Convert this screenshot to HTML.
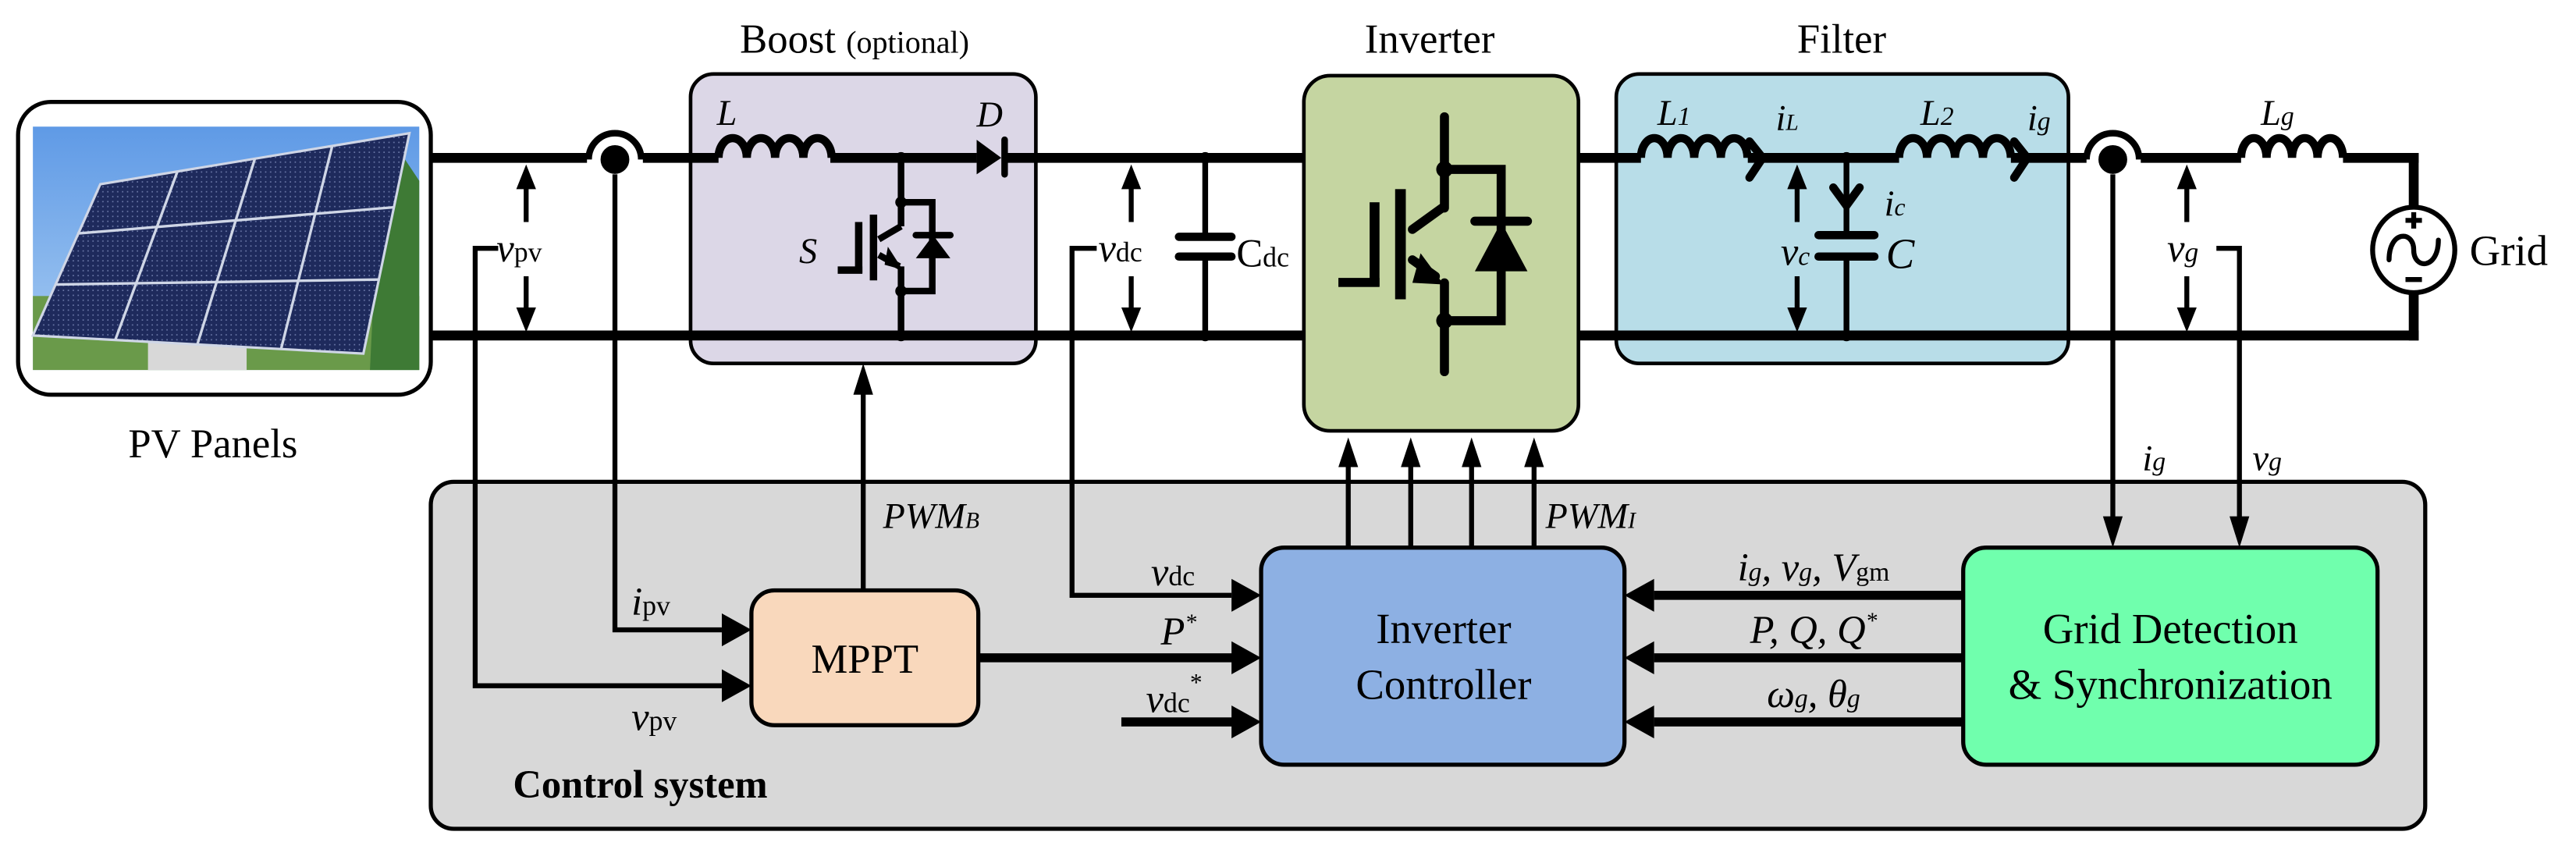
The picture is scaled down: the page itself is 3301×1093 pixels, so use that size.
<!DOCTYPE html>
<html><head><meta charset="utf-8"><style>
html,body{margin:0;padding:0;background:#fff;}
svg{display:block;font-family:"Liberation Serif","DejaVu Serif",serif;}
svg text{font-family:"Liberation Serif","DejaVu Serif",serif;fill:#000;}
.it{font-style:italic;}
</style></head><body>
<svg width="3301" height="1093" viewBox="0 0 1566.7 518.7" preserveAspectRatio="none" xmlns="http://www.w3.org/2000/svg" font-family="Liberation Serif, serif">
<defs>
<linearGradient id="sky" x1="0" y1="0" x2="0" y2="1"><stop offset="0" stop-color="#5f9ae6"/><stop offset="1" stop-color="#a9cdf2"/></linearGradient>
<pattern id="cells" width="3" height="3" patternUnits="userSpaceOnUse"><rect width="3" height="3" fill="#1e2a5c"/><rect x="2.2" y="2.2" width="0.8" height="0.8" fill="#6b78a8"/></pattern>
</defs>

<!-- Titles -->
<text x="450" y="32" font-size="25">Boost <tspan font-size="19">(optional)</tspan></text>
<text x="830" y="32" font-size="25">Inverter</text>
<text x="1093" y="32" font-size="25">Filter</text>

<!-- Control system box -->
<rect x="262" y="293" width="1213" height="211" rx="14" fill="#d8d8d8" stroke="#000" stroke-width="2.5"/>
<text x="312" y="485" font-size="24" font-weight="bold">Control system</text>

<!-- Boost box -->
<rect x="420" y="45" width="210" height="176" rx="14" fill="#dcd7e7" stroke="#000" stroke-width="2.2"/>
<!-- Inverter box -->
<rect x="793" y="46" width="167" height="216" rx="16" fill="#c5d5a1" stroke="#000" stroke-width="2.2"/>
<!-- Filter box -->
<rect x="983" y="45" width="275" height="176" rx="14" fill="#b8dde8" stroke="#000" stroke-width="2.2"/>

<!-- PV panel box -->
<rect x="11" y="62" width="251" height="178" rx="20" fill="#fff" stroke="#000" stroke-width="2.5"/>
<rect x="20" y="77" width="235" height="148" fill="url(#sky)"/>
<rect x="20" y="180" width="235" height="45" fill="#6a9a4a"/>
<path d="M230 120 L245 95 L255 110 L255 225 L225 225 Z" fill="#3e7a35"/>
<rect x="90" y="208" width="60" height="17" fill="#d8d8d8"/>
<polygon points="61,112 249,81 221,215 20,204" fill="url(#cells)" stroke="#cfd6e6" stroke-width="1.5"/>
<g stroke="#cfd6e6" stroke-width="1.6">
<line x1="108" y1="104" x2="70" y2="207"/>
<line x1="155" y1="96.5" x2="120" y2="209.5"/>
<line x1="202" y1="89" x2="171" y2="212"/>
<line x1="47" y1="142" x2="240" y2="126"/>
<line x1="34" y1="173" x2="231" y2="170"/>
</g>
<text x="78" y="278" font-size="25">PV Panels</text>

<!-- Rails -->
<g stroke="#000" stroke-width="6" fill="none">
<line x1="262" y1="96" x2="357" y2="96"/>
<line x1="391" y1="96" x2="437" y2="96"/>
<line x1="505" y1="96" x2="594" y2="96"/>
<line x1="610" y1="96" x2="793" y2="96"/>
<line x1="960" y1="96" x2="998" y2="96"/>
<line x1="1063" y1="96" x2="1155" y2="96"/>
<line x1="1223" y1="96" x2="1269" y2="96"/>
<line x1="1302" y1="96" x2="1363" y2="96"/>
<line x1="1425" y1="96" x2="1471" y2="96"/>
<line x1="262" y1="204" x2="793" y2="204"/>
<line x1="960" y1="204" x2="1471" y2="204"/>
<line x1="1468" y1="93" x2="1468" y2="126"/>
<line x1="1468" y1="178" x2="1468" y2="207"/>
</g>

<!-- Inductors -->
<g stroke="#000" stroke-width="5" fill="none">
<path d="M437 96 a8.6 12 0 0 1 17.2 0 a8.6 12 0 0 1 17.2 0 a8.6 12 0 0 1 17.2 0 a8.6 12 0 0 1 17.2 0"/>
<path d="M998 96 a8.1 12 0 0 1 16.2 0 a8.1 12 0 0 1 16.2 0 a8.1 12 0 0 1 16.2 0 a8.1 12 0 0 1 16.2 0"/>
<path d="M1155 96 a8.5 12 0 0 1 17 0 a8.5 12 0 0 1 17 0 a8.5 12 0 0 1 17 0 a8.5 12 0 0 1 17 0"/>
<path d="M1363 96 a7.75 12 0 0 1 15.5 0 a7.75 12 0 0 1 15.5 0 a7.75 12 0 0 1 15.5 0 a7.75 12 0 0 1 15.5 0"/>
</g>
<text x="436" y="76" font-size="22" class="it">L</text>
<text x="1008" y="76" font-size="22" class="it">L<tspan font-size="16">1</tspan></text>
<text x="1080" y="79" font-size="22" class="it">i<tspan font-size="14">L</tspan></text>
<text x="1168" y="76" font-size="22" class="it">L<tspan font-size="16">2</tspan></text>
<text x="1233" y="79" font-size="22" class="it">i<tspan font-size="16">g</tspan></text>
<text x="1375" y="76" font-size="22" class="it">L<tspan font-size="16">g</tspan></text>

<!-- Jump / current sensor circles -->
<g>
<path d="M358 97 A16 16 0 0 1 390 97" stroke="#000" stroke-width="4" fill="#fff"/>
<ellipse cx="374" cy="97" rx="10" ry="10" fill="#000" stroke="#fff" stroke-width="2.5"/>
<path d="M1269 97 A16 16 0 0 1 1301 97" stroke="#000" stroke-width="4" fill="#fff"/>
<ellipse cx="1285" cy="97" rx="10" ry="10" fill="#000" stroke="#fff" stroke-width="2.5"/>
</g>

<!-- Diode D -->
<polygon points="594,85 609,96 594,106" fill="#000"/>
<line x1="611" y1="85" x2="611" y2="106" stroke="#000" stroke-width="4" stroke-linecap="round"/>
<text x="594" y="77" font-size="22" class="it">D</text>

<!-- Boost switch -->
<g stroke="#000" stroke-width="4" fill="none">
<line x1="548" y1="96" x2="548" y2="137.6"/>
<line x1="548" y1="162" x2="548" y2="204"/>
<polyline points="548,123 567,123 567,177 548,177"/>
<line x1="534.5" y1="145.5" x2="548" y2="137.6"/>
<line x1="534.5" y1="155" x2="547" y2="162"/>
<line x1="557" y1="143" x2="578" y2="143" stroke-linecap="round"/>
</g>
<rect x="529" y="130.5" width="4.5" height="40" fill="#000"/>
<rect x="520" y="135" width="4.5" height="31" fill="#000"/>
<rect x="509.5" y="162" width="15" height="4.5" fill="#000"/>
<polygon points="557,157 578,157 567.5,143" fill="#000"/>
<polygon points="549,164 540,150 538,161" fill="#000"/>
<circle cx="548" cy="96" r="3.5"/><circle cx="548" cy="123" r="3.5"/><circle cx="548" cy="177" r="3.5"/><circle cx="548" cy="204" r="3.5"/>
<text x="486" y="160" font-size="22" class="it">S</text>

<!-- Cdc -->
<g stroke="#000" stroke-width="3.5">
<line x1="733" y1="96" x2="733" y2="144"/>
<line x1="733" y1="156" x2="733" y2="204"/>
</g>
<line x1="717" y1="144" x2="749" y2="144" stroke="#000" stroke-width="5" stroke-linecap="round"/>
<line x1="717" y1="156" x2="749" y2="156" stroke="#000" stroke-width="5" stroke-linecap="round"/>
<circle cx="733" cy="96" r="3.5"/><circle cx="733" cy="204" r="3.5"/>
<text x="752" y="162" font-size="24">C<tspan font-size="17">dc</tspan></text>

<!-- Inverter switch -->
<g stroke="#000" stroke-width="5.5" fill="none" stroke-linecap="round">
<line x1="878.5" y1="71" x2="878.5" y2="126.5"/>
<line x1="878.5" y1="172" x2="878.5" y2="226"/>
<polyline points="878.5,103 913,103 913,195 878.5,195" stroke-linecap="butt"/>
<line x1="859" y1="139.5" x2="877" y2="126.5"/>
<line x1="859" y1="158" x2="873" y2="168"/>
<line x1="897" y1="134.5" x2="929" y2="134.5"/>
</g>
<rect x="848.5" y="115" width="6.5" height="67" fill="#000"/>
<rect x="833" y="123" width="6" height="51" fill="#000"/>
<rect x="814" y="169" width="25" height="5.5" fill="#000"/>
<polygon points="897,165 929,165 913,135" fill="#000"/>
<polygon points="878,173 864,154 859,172" fill="#000"/>
<circle cx="878.5" cy="103" r="5"/><circle cx="878.5" cy="195" r="5"/>

<!-- Filter parts -->
<g stroke="#000" stroke-width="5" fill="none" stroke-linecap="round">
<polyline points="1064,86 1072,96 1064,108"/>
<polyline points="1225,86 1233,96 1225,108"/>
<polyline points="1115,114 1123,125 1131,114"/>
</g>
<g stroke="#000" stroke-width="3.5">
<line x1="1123" y1="96" x2="1123" y2="143"/>
<line x1="1123" y1="156" x2="1123" y2="204"/>
</g>
<line x1="1106" y1="143" x2="1140" y2="143" stroke="#000" stroke-width="5" stroke-linecap="round"/>
<line x1="1106" y1="156" x2="1140" y2="156" stroke="#000" stroke-width="5" stroke-linecap="round"/>
<circle cx="1123" cy="96" r="3.5"/><circle cx="1123" cy="204" r="3.5"/>
<text x="1146" y="131" font-size="22" class="it">i<tspan font-size="15">c</tspan></text>
<text x="1147" y="163" font-size="26" class="it">C</text>
<text x="1083" y="161" font-size="24" class="it">v<tspan font-size="16">c</tspan></text>

<!-- Voltage arrows -->
<g stroke="#000" stroke-width="3">
<line x1="320" y1="112" x2="320" y2="135"/><line x1="320" y1="168" x2="320" y2="190"/>
<line x1="688" y1="112" x2="688" y2="135"/><line x1="688" y1="168" x2="688" y2="190"/>
<line x1="1093" y1="112" x2="1093" y2="135"/><line x1="1093" y1="168" x2="1093" y2="190"/>
<line x1="1330" y1="112" x2="1330" y2="135"/><line x1="1330" y1="168" x2="1330" y2="190"/>
</g>
<g fill="#000">
<polygon points="320,100 314,115 326,115"/><polygon points="320,202 314,187 326,187"/>
<polygon points="688,100 682,115 694,115"/><polygon points="688,202 682,187 694,187"/>
<polygon points="1093,100 1087,115 1099,115"/><polygon points="1093,202 1087,187 1099,187"/>
<polygon points="1330,100 1324,115 1336,115"/><polygon points="1330,202 1324,187 1336,187"/>
</g>
<text x="302" y="159" font-size="24" class="it">v<tspan font-size="17" font-style="normal">pv</tspan></text>
<text x="668" y="159" font-size="24" class="it">v<tspan font-size="17" font-style="normal">dc</tspan></text>
<text x="1318" y="159" font-size="24" class="it">v<tspan font-size="17">g</tspan></text>

<!-- Grid source -->
<ellipse cx="1468" cy="152" rx="25" ry="26" fill="#fff" stroke="#000" stroke-width="3"/>
<path d="M1453 158 C1453 140 1468 140 1468 152 C1468 164 1483 164 1483 146" stroke="#000" stroke-width="3" fill="none" stroke-linecap="round"/>
<path d="M1463 134 h10 M1468 129 v10 M1463 170 h10" stroke="#000" stroke-width="3"/>
<text x="1502" y="161" font-size="26">Grid</text>

<!-- Sensing wires (thin) -->
<g stroke="#000" stroke-width="3" fill="none">
<polyline points="303,151 289,151 289,417 439,417"/>
<polyline points="374,106 374,383 439,383"/>
<polyline points="667,151 652,151 652,362 749,362"/>
<polyline points="1348,151 1362,151 1362,316"/>
<line x1="1285" y1="106" x2="1285" y2="316"/>
<line x1="525" y1="238" x2="525" y2="358"/>
<line x1="820" y1="282" x2="820" y2="333"/>
<line x1="858" y1="282" x2="858" y2="333"/>
<line x1="895" y1="282" x2="895" y2="333"/>
<line x1="933" y1="282" x2="933" y2="333"/>
</g>
<g fill="#000">
<polygon points="525,221 519,240 531,240"/>
<polygon points="820,266 814,284 826,284"/>
<polygon points="858,266 852,284 864,284"/>
<polygon points="895,266 889,284 901,284"/>
<polygon points="933,266 927,284 939,284"/>
<polygon points="1285,333 1279,314 1291,314"/>
<polygon points="1362,333 1356,314 1368,314"/>
</g>
<text x="1303" y="286" font-size="22" class="it">i<tspan font-size="16">g</tspan></text>
<text x="1370" y="286" font-size="22" class="it">v<tspan font-size="16">g</tspan></text>
<text x="537" y="321" font-size="22" class="it">PWM<tspan font-size="14">B</tspan></text>
<text x="940" y="321" font-size="22" class="it">PWM<tspan font-size="14">I</tspan></text>

<!-- Blocks -->
<rect x="457" y="359" width="138" height="82" rx="14" fill="#f9d8bc" stroke="#000" stroke-width="2.5"/>
<text x="526" y="409" font-size="25" text-anchor="middle">MPPT</text>
<rect x="767" y="333" width="221" height="132" rx="14" fill="#8db0e3" stroke="#000" stroke-width="2.5"/>
<text x="878" y="391" font-size="26" text-anchor="middle">Inverter</text>
<text x="878" y="425" font-size="26" text-anchor="middle">Controller</text>
<rect x="1194" y="333" width="252" height="132" rx="14" fill="#70ffad" stroke="#000" stroke-width="2.5"/>
<text x="1320" y="391" font-size="26" text-anchor="middle">Grid Detection</text>
<text x="1320" y="425" font-size="26" text-anchor="middle">&amp; Synchronization</text>

<!-- Thick signal arrows -->
<g stroke="#000" stroke-width="5.5">
<line x1="595" y1="400" x2="750" y2="400"/>
<line x1="682" y1="439" x2="750" y2="439"/>
<line x1="1006" y1="362" x2="1194" y2="362"/>
<line x1="1006" y1="400" x2="1194" y2="400"/>
<line x1="1006" y1="439" x2="1194" y2="439"/>
</g>
<g fill="#000">
<polygon points="439,373 457,383 439,393"/>
<polygon points="439,407 457,417 439,427"/>
<polygon points="749,352 767,362 749,372"/>
<polygon points="749,390 767,400 749,410"/>
<polygon points="749,429 767,439 749,449"/>
<polygon points="1006,352 988,362 1006,372"/>
<polygon points="1006,390 988,400 1006,410"/>
<polygon points="1006,429 988,439 1006,449"/>
</g>
<text x="384" y="374" font-size="24" class="it">i<tspan font-size="17" font-style="normal">pv</tspan></text>
<text x="384" y="444" font-size="24" class="it">v<tspan font-size="17" font-style="normal">pv</tspan></text>
<text x="700" y="356" font-size="24" class="it">v<tspan font-size="17" font-style="normal">dc</tspan></text>
<text x="706" y="392" font-size="24" class="it">P<tspan font-size="14" dy="-9">*</tspan></text>
<text x="697" y="433" font-size="24" class="it">v<tspan font-size="17" font-style="normal">dc</tspan><tspan font-size="15" dy="-13" font-style="normal">*</tspan></text>
<text x="1103" y="353" font-size="24" class="it" text-anchor="middle">i<tspan font-size="16">g</tspan>, v<tspan font-size="16">g</tspan>, V<tspan font-size="16" font-style="normal">gm</tspan></text>
<text x="1103" y="391" font-size="24" class="it" text-anchor="middle">P, Q, Q<tspan font-size="14" dy="-9">*</tspan></text>
<text x="1103" y="430" font-size="24" class="it" text-anchor="middle">ω<tspan font-size="16">g</tspan>, θ<tspan font-size="16">g</tspan></text>
</svg>
</body></html>
